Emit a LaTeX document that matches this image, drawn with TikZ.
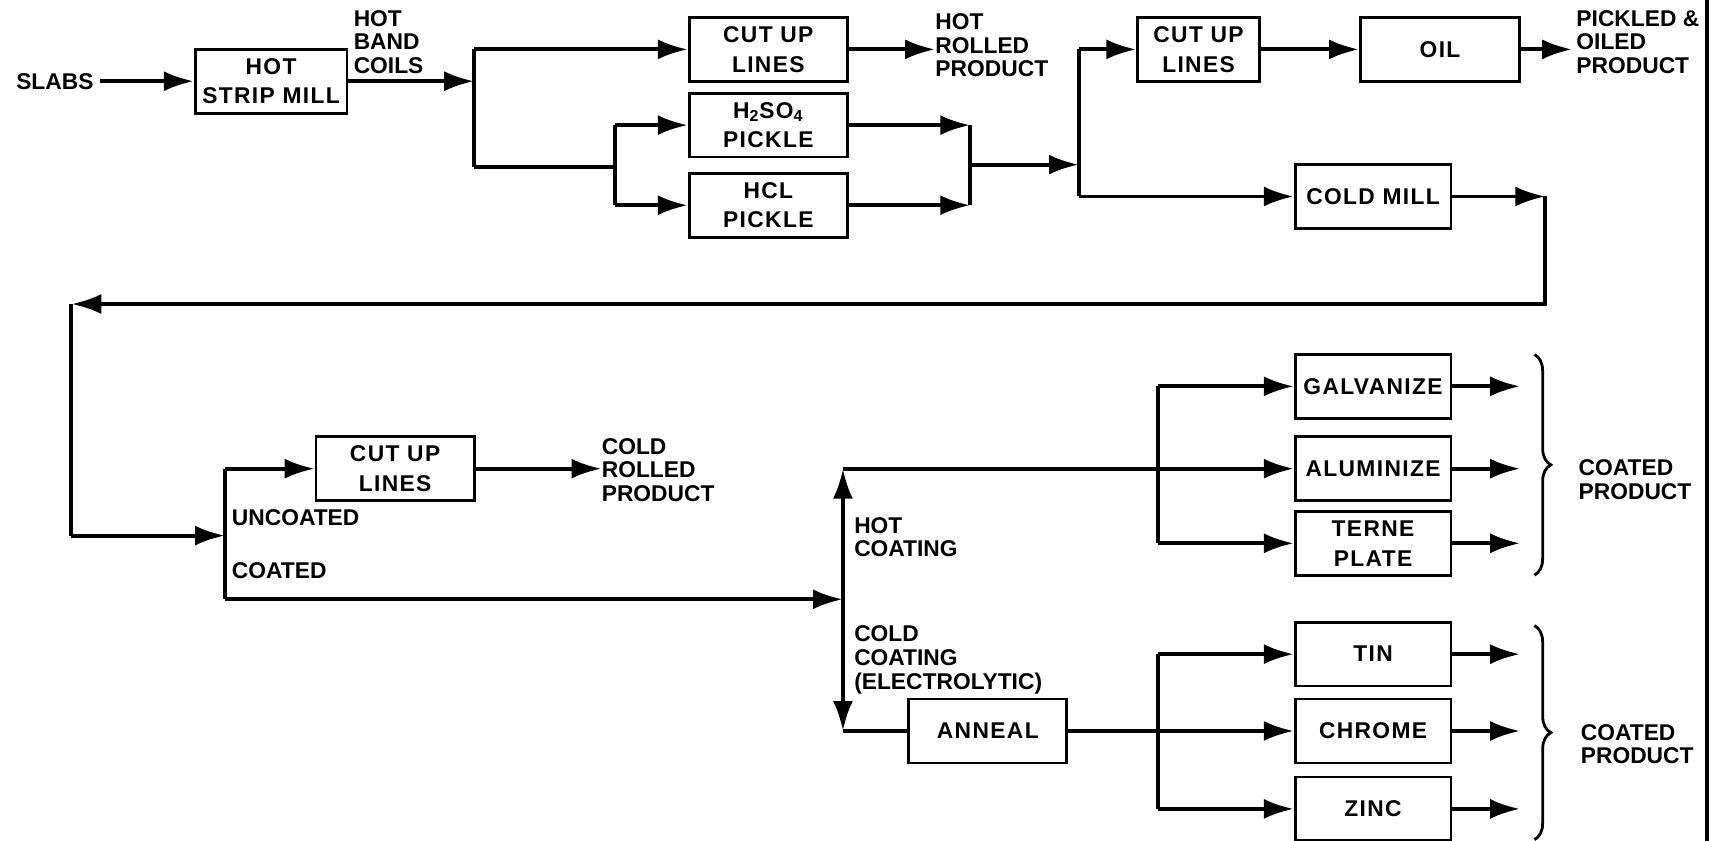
\documentclass[tikz,border=0pt]{standalone}
\usepackage{fontspec}
\setmainfont{Liberation Sans}
\usepackage{tikz}
\usetikzlibrary{arrows.meta}
\usetikzlibrary{decorations.pathreplacing}

\tikzset{
	unit/.style={draw, line width=1.6pt, minimum height=1.28cm, inner sep=0pt, align=center, font=\bfseries\fontsize{13}{17}\selectfont\addfontfeatures{LetterSpace=6}},
	lbl/.style={inner sep=0pt, align=left, font=\bfseries\fontsize{13}{13.5}\selectfont},
	line/.style={line width=2.2pt},
	flow/.style={line width=2.2pt, -{Latex[length=6mm,width=4mm]}},
	curly/.style={line width=1.6pt, decorate, decoration={brace, amplitude=0.33cm}}
}

\begin{document}
\begin{tikzpicture}[x=0.022cm, y=-0.022cm]

	\useasboundingbox (0,0) rectangle (1568,766);

	% hot strip mill
	\node[lbl] (slabs) at (50,74) {SLABS};
	\node[unit, minimum width=3.04cm] (strip) at (247,74) {HOT\\STRIP MILL};
	\node[lbl, anchor=north west] (coils) at (322,9) {HOT\\BAND\\COILS};
	\draw[flow] ([xshift=1.2mm]slabs.east) -- (strip.west);

	\coordinate (split1) at (432,74);
	\coordinate (split1a) at (432,45);
	\coordinate (split1b) at (432,152);
	\draw[flow] (strip.east) -- (split1);
	\draw[line] (split1a) -- (split1b);

	% hot rolled / pickle
	\node[unit, minimum width=3.17cm] (cut1) at (700,45) {CUT UP\\LINES};
	\node[unit, minimum width=3.17cm] (acid) at (700,114) {H\textsubscript{2}SO\textsubscript{4}\\PICKLE};
	\node[unit, minimum width=3.17cm] (hcl) at (700,187) {HCL\\PICKLE};
	\node[lbl, anchor=north west] (hotroll) at (852,12) {HOT\\ROLLED\\PRODUCT};

	\coordinate (split2) at (560,152);
	\draw[flow] (split1a) -- (cut1.west);
	\draw[line] (split1b) -- (split2);
	\draw[line] (560,114) -- (560,187);
	\draw[flow] (560,114) -- (acid.west);
	\draw[flow] (560,187) -- (hcl.west);
	\draw[flow] (cut1.east) -- (hotroll.west |- cut1.east);

	\coordinate (merge1a) at (884,114);
	\coordinate (merge1b) at (884,187);
	\draw[flow] (acid.east) -- (merge1a);
	\draw[flow] (hcl.east) -- (merge1b);
	\draw[line] (merge1a) -- (merge1b);

	\coordinate (split3) at (983,150);
	\coordinate (split3a) at (983,45);
	\coordinate (split3b) at (983,179);
	\draw[flow] (884,150) -- (split3);
	\draw[line] (split3a) -- (split3b);

	% pickled and oiled / cold mill
	\node[unit, minimum width=2.44cm] (cut2) at (1092,45) {CUT UP\\LINES};
	\node[unit, minimum width=3.19cm] (oil) at (1312,45) {OIL};
	\node[lbl, anchor=north west] (pickled) at (1436,9) {PICKLED \&\\OILED\\PRODUCT};
	\node[unit, minimum width=3.12cm] (coldmill) at (1251,179) {COLD MILL};

	\draw[flow] (split3a) -- (cut2.west);
	\draw[flow] (cut2.east) -- (oil.west);
	\draw[flow] (oil.east) -- ([xshift=-0.8mm]pickled.west |- oil.east);
	\draw[flow] (split3b) -- (coldmill.west);

	\coordinate (turn1) at (1408,179);
	\coordinate (turn2) at (65,277);
	\coordinate (turn3) at (65,488);
	\draw[flow] (coldmill.east) -- (turn1);
	\draw[flow] (turn1) -- (1408,277) -- (turn2);
	\draw[line] (turn2) -- (turn3);

	% uncoated / coated
	\node[unit, minimum width=3.17cm] (cut3) at (360,427) {CUT UP\\LINES};
	\node[lbl, anchor=north west] (coldroll) at (548,399) {COLD\\ROLLED\\PRODUCT};
	\node[lbl, anchor=west] (uncoated) at (211,472) {UNCOATED};
	\node[lbl, anchor=west] (coated) at (211,520) {COATED};

	\coordinate (split4) at (205,488);
	\coordinate (split4a) at (205,427);
	\coordinate (split4b) at (205,546);
	\draw[flow] (turn3) -- (split4);
	\draw[line] (split4a) -- (split4b);
	\draw[flow] (split4a) -- (cut3.west);
	\draw[flow] (cut3.east) -- (coldroll.west |- cut3.east);

	\coordinate (split5) at (768,546);
	\coordinate (split5a) at (768,427);
	\coordinate (split5b) at (768,666);
	\draw[flow] (split4b) -- (split5);
	\draw[flow] (split5) -- (split5a);
	\draw[flow] (split5) -- (split5b);

	\node[lbl, anchor=north west] (hotcoat) at (778,471) {HOT\\COATING};
	\node[lbl, anchor=north west] (coldcoat) at (778,570) {COLD\\COATING\\(ELECTROLYTIC)};

	% hot coating
	\node[unit, minimum width=3.12cm] (galv) at (1251,352) {GALVANIZE};
	\node[unit, minimum width=3.12cm] (alum) at (1251,427) {ALUMINIZE};
	\node[unit, minimum width=3.12cm] (terne) at (1251,495) {TERNE\\PLATE};

	\draw[flow] (split5a) -- (alum.west);
	\draw[line] (1055,352) -- (1055,495);
	\draw[flow] (1055,352) -- (galv.west);
	\draw[flow] (1055,495) -- (terne.west);

	\coordinate (out1) at (1385,352);
	\coordinate (out2) at (1385,427);
	\coordinate (out3) at (1385,495);
	\draw[flow] (galv.east) -- (out1);
	\draw[flow] (alum.east) -- (out2);
	\draw[flow] (terne.east) -- (out3);

	\draw[curly] (1398,323) -- (1398,524);
	\node[lbl, anchor=west] (product1) at (1438,437) {COATED\\PRODUCT};

	% cold coating
	\node[unit, minimum width=3.17cm] (anneal) at (900,666) {ANNEAL};
	\node[unit, minimum width=3.12cm] (tin) at (1251,596) {TIN};
	\node[unit, minimum width=3.12cm] (chrome) at (1251,666) {CHROME};
	\node[unit, minimum width=3.12cm] (zinc) at (1251,737) {ZINC};

	\draw[line] (split5b) -- (anneal.west);
	\draw[flow] (anneal.east) -- (chrome.west);
	\draw[line] (1055,596) -- (1055,737);
	\draw[flow] (1055,596) -- (tin.west);
	\draw[flow] (1055,737) -- (zinc.west);

	\coordinate (out4) at (1385,596);
	\coordinate (out5) at (1385,666);
	\coordinate (out6) at (1385,737);
	\draw[flow] (tin.east) -- (out4);
	\draw[flow] (chrome.east) -- (out5);
	\draw[flow] (zinc.east) -- (out6);

	\draw[curly] (1398,570) -- (1398,765);
	\node[lbl, anchor=west] (product2) at (1440,678) {COATED\\PRODUCT};

	% border
	\draw[line width=2pt] (1555,0) -- (1555,766);

\end{tikzpicture}
\end{document}
